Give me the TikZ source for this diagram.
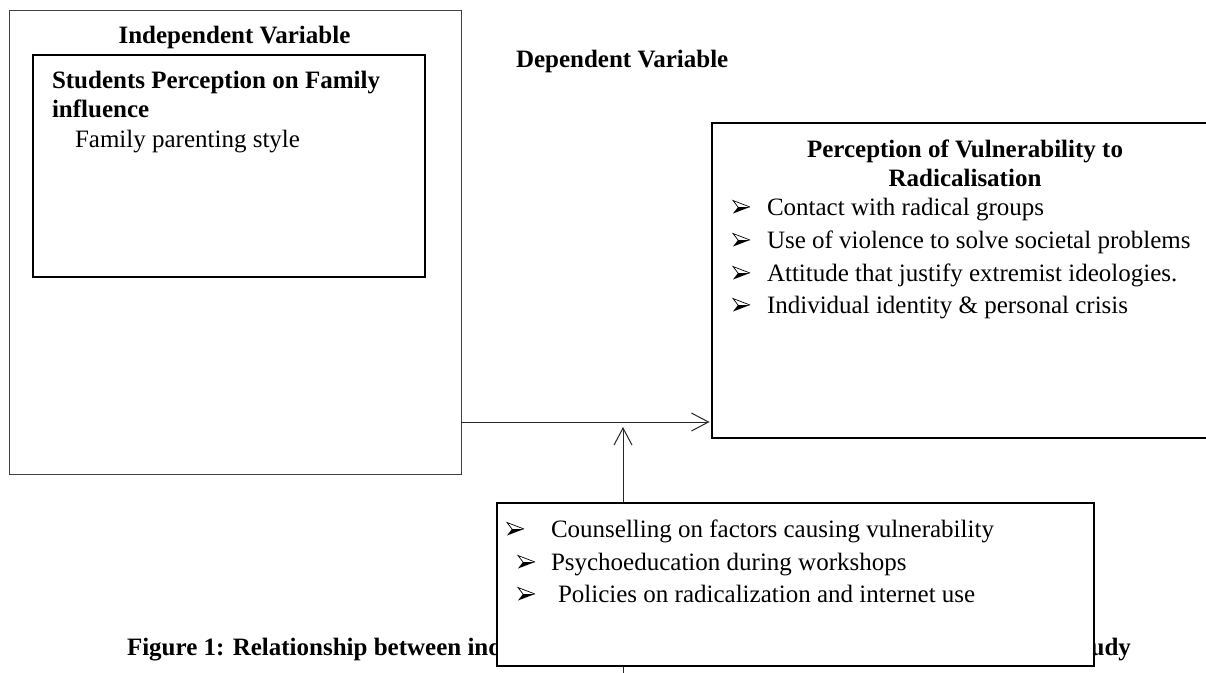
\documentclass[tikz,border=0pt]{standalone}
\usepackage{fontspec}
\setmainfont{Liberation Serif}
\usetikzlibrary{arrows.meta}
\begin{document}
\begin{tikzpicture}[x=1pt,y=-1pt,
  every node/.style={inner sep=0pt, outer sep=0pt, font=\fontsize{25}{29}\selectfont},
  box/.style={draw=black, line width=2pt, fill=white, rectangle, anchor=north west},
  thinbox/.style={draw=black!75, line width=1pt, rectangle, anchor=north west},
  txt/.style={anchor=base west},
  btxt/.style={anchor=base west, font=\fontsize{25}{29}\selectfont\bfseries},
  ttl/.style={anchor=base, font=\fontsize{25}{29}\selectfont\bfseries},
  conn/.style={draw=black!85, line width=1pt, -{Straight Barb[length=17pt,width=18pt,line width=1pt]}},
  bul/.pic={
    \fill[black] (5,0) -- (17,0) -- (0,6.5) -- cycle;
    \draw[black, line width=0.7pt, line join=miter] (5,0) -- (0,-6.5) -- (17,0);
  }
]
\useasboundingbox (0,0) rectangle (1206,672);
\fill[white] (0,0) rectangle (1206,672);

% Independent variable
\node[thinbox, minimum width=452pt, minimum height=464pt] (iv) at (9,10) {};
\node[ttl] (ivt) at (234.5,43) {Independent Variable};
\node[box, minimum width=392pt, minimum height=222pt] (fam) at (33,55) {};
\node[btxt] (fam1) at (52,88) {Students Perception on Family};
\node[btxt] (fam2) at (52,117) {influence};
\node[txt] (fam3) at (75,147) {Family parenting style};

% Dependent variable
\node[btxt] (dvt) at (516,67) {Dependent Variable};
\node[box, minimum width=520pt, minimum height=315pt] (dv) at (712,123) {};
\node[ttl] (dv1) at (965,157) {Perception of Vulnerability to};
\node[ttl] (dv2) at (965,186) {Radicalisation};
\pic at (733,207) {bul};
\node[txt] (d1) at (767,215) {Contact with radical groups};
\pic at (733,240) {bul};
\node[txt] (d2) at (767,248) {Use of violence to solve societal problems};
\pic at (733,273) {bul};
\node[txt] (d3) at (767,281) {Attitude that justify extremist ideologies.};
\pic at (733,305) {bul};
\node[txt] (d4) at (767,313) {Individual identity \& personal crisis};

% Horizontal connector
\coordinate (hy) at (0,422);
\draw[conn, shorten >=2.5pt] (iv.east |- hy) -- (dv.west |- hy);

% Caption (partly hidden by the box)
\node[btxt] (cap1) at (127,655) {Figure 1: Relationship between independent};
\node[anchor=base east, font=\fontsize{25}{29}\selectfont\bfseries] (cap2) at (1131,655) {and dependent variables in the study};

% Vertical connector (runs behind the intervening box)
\coordinate (vstart) at (623,690);
\coordinate (vtip) at (623,427);
\draw[conn] (vstart) -- (vtip);

% Intervening box
\node[box, line width=1.8pt, minimum width=597pt, minimum height=163pt] (int) at (497,503) {};
\pic at (507,529) {bul};
\node[txt] (i1) at (551,537) {Counselling on factors causing vulnerability};
\pic at (518,562) {bul};
\node[txt] (i2) at (551,570) {Psychoeducation during workshops};
\pic at (518,594) {bul};
\node[txt] (i3) at (558,602) {Policies on radicalization and internet use};
\end{tikzpicture}
\end{document}
